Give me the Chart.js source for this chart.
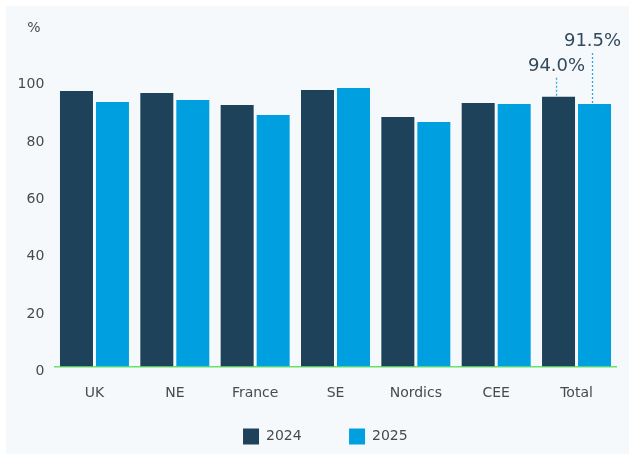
<!DOCTYPE html>
<html>
<head>
<meta charset="utf-8">
<script src="https://cdn.jsdelivr.net/npm/chart.js@4/dist/chart.umd.min.js"></script>
<style>
  html, body { margin: 0; padding: 0; background: #ffffff; }
  #panel { position: absolute; left: 6px; top: 6px; width: 623px; height: 448px; background: #f5f9fb; }
  canvas { display: block; }
</style>
</head>
<body>
<div id="panel"><canvas id="chart" width="623" height="448"></canvas></div>
<script>
// Regions along the x axis
const regions = ['UK', 'NE', 'France', 'SE', 'Nordics', 'CEE', 'Total'];
// Share per region, in %
const values2024 = [96.0, 95.3, 91.1, 96.3, 86.9, 91.8, 94.0];
const values2025 = [92.2, 92.9, 87.6, 97.0, 85.2, 91.5, 91.5];
const seriesNames = ['2024', '2025'];
// Y axis range and step
const yMin = 0, yMax = 100, yStep = 20;
const yUnit = '%';

const FONT = 'DejaVu Sans';
const TEXT = '#4a4a4a';

// Nudge the legend row into place below the axis labels
const legendPlacement = {
  id: 'legendPlacement',
  afterLayout(chart) {
    const lg = chart.legend;
    if (!lg) return;
    const dy = -25.4, dx = 14;
    lg.top += dy;
    lg.height = lg.bottom - lg.top;
    lg.left += dx; lg.right += dx;
  }
};

// Unit label above the y axis, and value call-outs on the Total bars
const callouts = {
  id: 'callouts',
  afterDraw(chart) {
    const ctx = chart.ctx;
    ctx.save();
    ctx.font = '14px "' + FONT + '"';
    ctx.fillStyle = TEXT;
    ctx.textAlign = 'center';
    ctx.textBaseline = 'middle';
    ctx.fillText(yUnit, 28, 22);

    const idx = regions.indexOf('Total');
    const rise = [19, 52];
    [0, 1].forEach(d => {
      const bar = chart.getDatasetMeta(d).data[idx];
      const v = chart.data.datasets[d].data[idx];
      const x = bar.x - 2;
      const yTop = bar.y - rise[d];
      ctx.strokeStyle = '#3aa6dd';
      ctx.lineWidth = 1.3;
      ctx.setLineDash([2, 2]);
      ctx.beginPath();
      ctx.moveTo(x, bar.y - 1);
      ctx.lineTo(x, yTop);
      ctx.stroke();
      ctx.setLineDash([]);
      ctx.font = '18px "' + FONT + '"';
      ctx.fillStyle = '#34495e';
      ctx.fillText(v.toFixed(1) + '%', x, yTop - 11);
    });
    ctx.restore();
  }
};

new Chart(document.getElementById('chart'), {
  type: 'bar',
  data: {
    labels: regions,
    datasets: [
      { label: seriesNames[0], data: values2024, backgroundColor: '#1f425b', borderWidth: 0 },
      { label: seriesNames[1], data: values2025, backgroundColor: '#00a0e0', borderWidth: 0 }
    ]
  },
  options: {
    responsive: false,
    animation: false,
    devicePixelRatio: 1,
    categoryPercentage: 0.896,
    barPercentage: 0.917,
    layout: { padding: { left: 0, right: 12.3, top: 73.5, bottom: 0 } },
    plugins: {
      tooltip: { enabled: false },
      legend: {
        position: 'bottom',
        maxHeight: 47.5,
        labels: {
          boxWidth: 16,
          boxHeight: 16,
          padding: 47.4,
          color: TEXT,
          font: { family: FONT, size: 14 }
        }
      }
    },
    scales: {
      x: {
        grid: { display: false, drawTicks: false },
        border: { display: true, color: '#6be36b', width: 1.5 },
        ticks: { color: TEXT, padding: 18, font: { family: FONT, size: 14 } },
        afterFit(scale) { scale.height = 40; }
      },
      y: {
        min: yMin,
        max: yMax,
        grid: { display: false, drawTicks: false },
        border: { display: false },
        ticks: { stepSize: yStep, color: TEXT, padding: 10, labelOffset: 5, font: { family: FONT, size: 14 } },
        afterFit(scale) { scale.width = 48.3; }
      }
    }
  },
  plugins: [legendPlacement, callouts]
});
</script>
</body>
</html>
